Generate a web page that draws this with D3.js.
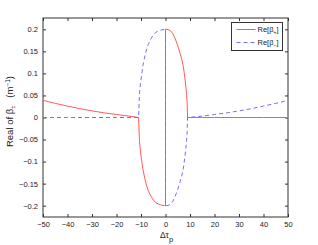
<!DOCTYPE html>
<html>
<head>
<meta charset="utf-8">
<script src="https://cdn.jsdelivr.net/npm/d3@7"></script>
<style>
  body { margin: 0; background: #fff; }
  svg { display: block; font-family: "Liberation Sans", Arial, sans-serif; }
</style>
</head>
<body>
<svg id="chart" width="318" height="245"></svg>
<script>
// values
const xTicks = [-50, -40, -30, -20, -10, 0, 10, 20, 30, 40, 50];
const yTicks = [-0.2, -0.15, -0.1, -0.05, 0, 0.05, 0.1, 0.15, 0.2];
const yTickLabels = ["\u22120.2", "\u22120.15", "\u22120.1", "\u22120.05", "0", "0.05", "0.1", "0.15", "0.2"];

// Re[beta+] (solid red)
const plusDt = [-50, -45, -40, -35, -30, -25, -20, -15, -11,
  -10.6, -10.2, -9.8, -9.2, -8.5, -7.8, -7.1, -6, -5, -4, -3, -2, -1, 0,
  0, 1, 2, 3, 4, 5, 6, 6.6, 7.3, 7.9, 8.3, 8.6, 8.85, 9,
  15, 20, 30, 40, 50];
const plusVal = [0.039, 0.032, 0.026, 0.020, 0.015, 0.0105, 0.0068, 0.0032, 0,
  -0.055, -0.078, -0.094, -0.118, -0.137, -0.153, -0.165, -0.178, -0.187, -0.193, -0.196, -0.198, -0.1995, -0.2,
  0.2, 0.1995, 0.197, 0.19, 0.178, 0.163, 0.145, 0.133, 0.115, 0.09, 0.07, 0.052, 0.032, 0,
  0, 0, 0, 0, 0];

// Re[beta-] (dashed blue)
const minusDt = [-50, -40, -30, -20, -11,
  -10.6, -10.2, -9.8, -9.2, -8.5, -7.8, -7.1, -6, -5, -4, -3, -2, -1, 0,
  0, 1, 2, 3, 4, 5, 6, 6.6, 7.3, 7.9, 8.3, 8.6, 8.85, 9,
  15, 20, 25, 30, 35, 40, 45, 50];
const minusVal = [0, 0, 0, 0, 0,
  0.055, 0.078, 0.094, 0.118, 0.137, 0.153, 0.165, 0.178, 0.187, 0.193, 0.196, 0.198, 0.1995, 0.2,
  -0.2, -0.1995, -0.197, -0.19, -0.178, -0.163, -0.145, -0.133, -0.115, -0.09, -0.07, -0.052, -0.032, 0,
  0.0032, 0.0068, 0.0105, 0.015, 0.020, 0.026, 0.032, 0.039];

const svg = d3.select("#chart");
const margin = { left: 43, right: 30, top: 18, bottom: 28 };
const width = 318, height = 245;

const x = d3.scaleLinear().domain([-50, 50]).range([margin.left, width - margin.right]);
const y = d3.scaleLinear().domain([-0.2257, 0.2257]).range([height - margin.bottom, margin.top]);

const axisColor = "#333";
const tickLen = 3;

// axes box
const g = svg.append("g");
g.append("rect")
  .attr("x", x(-50)).attr("y", y(0.2257))
  .attr("width", x(50) - x(-50)).attr("height", y(-0.2257) - y(0.2257))
  .attr("fill", "none").attr("stroke", axisColor).attr("stroke-width", 1);

// inward ticks on all four sides (matlab style)
const xAxisB = d3.axisBottom(x).tickValues(xTicks).tickSizeInner(-tickLen).tickSizeOuter(0)
  .tickPadding(5).tickFormat(d => d < 0 ? "\u2212" + Math.abs(d) : d);
const xAxisT = d3.axisTop(x).tickValues(xTicks).tickSizeInner(-tickLen).tickSizeOuter(0).tickFormat("");
const yAxisL = d3.axisLeft(y).tickValues(yTicks).tickSizeInner(-tickLen).tickSizeOuter(0)
  .tickPadding(5).tickFormat((d, i) => yTickLabels[i]);
const yAxisR = d3.axisRight(y).tickValues(yTicks).tickSizeInner(-tickLen).tickSizeOuter(0).tickFormat("");

function styleAxis(sel) {
  sel.select(".domain").remove();
  sel.selectAll("line").attr("stroke", axisColor);
  sel.selectAll("text").attr("fill", "#222").style("font-size", "7.5px");
}
g.append("g").attr("transform", `translate(0,${y(-0.2257)})`).call(xAxisB).call(styleAxis);
g.append("g").attr("transform", `translate(0,${y(0.2257)})`).call(xAxisT).call(styleAxis);
g.append("g").attr("transform", `translate(${x(-50)},0)`).call(yAxisL).call(styleAxis);
g.append("g").attr("transform", `translate(${x(50)},0)`).call(yAxisR).call(styleAxis);

// curves
const line = d3.line().x(d => x(d[0])).y(d => y(d[1]));
const plusData = plusDt.map((d, i) => [d, plusVal[i]]);
const minusData = minusDt.map((d, i) => [d, minusVal[i]]);

svg.append("path").datum(plusData)
  .attr("d", line).attr("fill", "none")
  .attr("stroke", "#ff5a5a").attr("stroke-width", 1);
svg.append("path").datum(minusData)
  .attr("d", line).attr("fill", "none")
  .attr("stroke", "#6f6fff").attr("stroke-width", 1).attr("stroke-dasharray", "4,3");

// legend
const lg = svg.append("g").attr("transform", "translate(231.5,22.5)");
lg.append("rect").attr("width", 51).attr("height", 28)
  .attr("fill", "#fff").attr("stroke", axisColor).attr("stroke-width", 1);
const legendItems = [
  { sign: "+", color: "#ff5a5a", dash: null },
  { sign: "\u2212", color: "#6f6fff", dash: "4,3" }
];
legendItems.forEach((d, i) => {
  const yy = 7 + i * 13;
  lg.append("line").attr("x1", 5).attr("x2", 24).attr("y1", yy).attr("y2", yy)
    .attr("stroke", d.color).attr("stroke-width", 1).attr("stroke-dasharray", d.dash);
  const t = lg.append("text").attr("x", 26).attr("y", yy + 2.5)
    .style("font-size", "7.5px").attr("fill", "#222");
  t.append("tspan").text("Re[\u03b2");
  t.append("tspan").attr("dy", 2).style("font-size", "5px").text(d.sign);
  t.append("tspan").attr("dy", -2).text("]");
});

// x label
const xl = svg.append("text")
  .attr("x", x(0) + 1).attr("y", 238)
  .attr("text-anchor", "middle").style("font-size", "8.5px").attr("fill", "#222");
xl.append("tspan").text("\u0394\u03c4");
xl.append("tspan").attr("dy", 3.5).style("font-size", "7.5px").text("p");

// y label
const yl = svg.append("text")
  .attr("transform", `translate(13,${(y(0.2257) + y(-0.2257)) / 2 - 6}) rotate(-90)`)
  .attr("text-anchor", "middle").style("font-size", "9.5px").attr("fill", "#222");
yl.append("tspan").text("Real of \u03b2");
yl.append("tspan").attr("dy", 2).style("font-size", "6px").text("\u00b1");
yl.append("tspan").attr("dy", -2).text("\u00a0\u00a0\u00a0(m");
yl.append("tspan").attr("dy", -3.5).style("font-size", "6.5px").text("\u22121");
yl.append("tspan").attr("dy", 3.5).text(")");
</script>
</body>
</html>
